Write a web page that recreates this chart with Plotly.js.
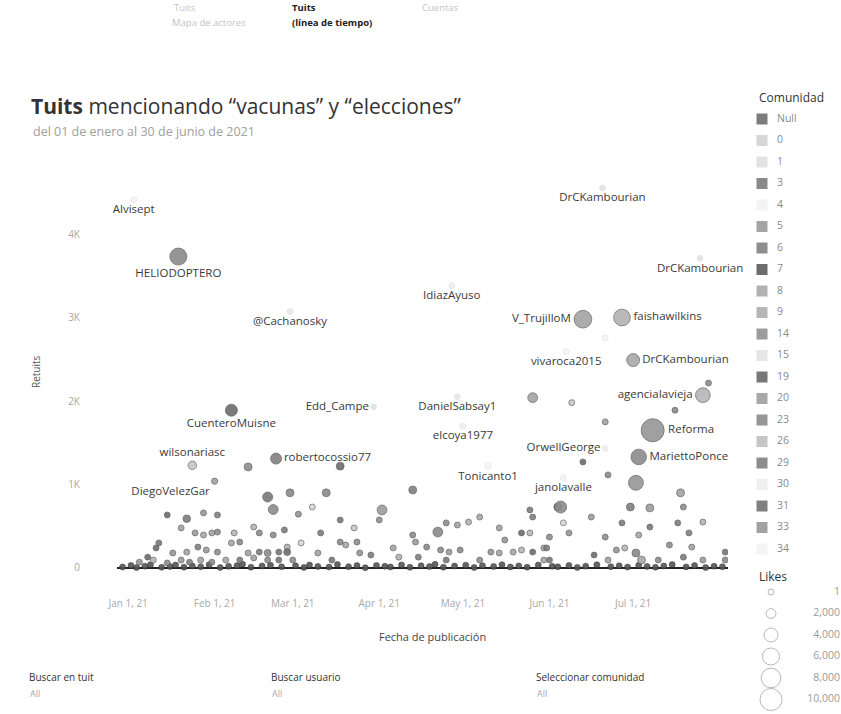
<!DOCTYPE html>
<html>
<head>
<meta charset="utf-8">
<script src="https://cdn.plot.ly/plotly-3.0.1.min.js"></script>
<style>
html,body{margin:0;padding:0;background:#fff;}
#chart{width:841px;height:714px;}
</style>
</head>
<body>
<div id="chart"></div>
<script>
// ---------- Communities (legend) ----------
const communities = ['Null','0','1','3','4','5','6','7','8','9','14','15','19','20','23','26','29','30','31','33','34'];
const communityGrays = ['#7c7c7c','#d6d6d6','#e2e2e2','#8a8a8a','#f3f3f3','#a4a4a4','#8e8e8e','#6c6c6c','#b2b2b2','#b6b6b6','#9c9c9c','#e6e6e6','#787878','#a8a8a8','#969696','#c6c6c6','#8c8c8c','#efefef','#808080','#a2a2a2','#f4f4f4'];

// ---------- Labelled tweets ----------
const userNames = ['Alvisept','HELIODOPTERO','@Cachanosky','IdiazAyuso','DrCKambourian','DrCKambourian','V_TrujilloM','faishawilkins','vivaroca2015','DrCKambourian','agenciaIavieja','Reforma','MariettoPonce','OrwellGeorge','Tonicanto1','janolavalle','DanielSabsay1','elcoya1977','Edd_Campe','CuenteroMuisne','wilsonariasc','robertocossio77','DiegoVelezGar'];
const userDates = ['2021-01-03','2021-01-19','2021-02-28','2021-04-27','2021-06-20','2021-07-25','2021-06-13','2021-06-27','2021-06-07','2021-07-01','2021-07-26','2021-07-08','2021-07-03','2021-06-21','2021-05-10','2021-06-06','2021-04-29','2021-05-01','2021-03-30','2021-02-07','2021-01-24','2021-02-23','2021-02-01'];
const userRetuits = [4410,3730,3070,3380,4550,3710,2980,3000,2590,2490,2070,1650,1330,1430,1220,1080,2050,1700,1930,1890,1230,1310,1040];
const userLikes = [300,6000,200,150,300,300,6500,5800,100,3500,4500,11000,5000,200,100,100,150,100,200,3000,1500,2500,800];
const userCommunity = ['4','3','15','30','1','1','5','8','34','20','9','23','29','30','34','4','15','30','1','7','26','31','33'];
const labelPlacement = ['bottom center','bottom center','bottom center','bottom center','bottom center','bottom center','middle left','middle right','bottom center','middle right','middle left','middle right','middle right','middle left','bottom center','bottom center','bottom center','bottom center','middle left','bottom center','top center','middle right','bottom left'];

// ---------- Other tweets ----------
const tweetDates = [
'2021-02-13','2021-02-20','2021-02-28','2021-02-22','2021-01-15','2021-01-22','2021-01-28','2021-02-02','2021-01-20','2021-01-25',
'2021-01-28','2021-01-31','2021-02-02','2021-02-08','2021-02-15','2021-02-17','2021-02-22','2021-02-26','2021-01-12','2021-01-11',
'2021-01-17','2021-01-22','2021-01-26','2021-01-29','2021-02-02','2021-02-07','2021-02-10','2021-02-13','2021-02-17','2021-02-20',
'2021-02-24','2021-02-27','2021-01-08','2021-01-05','2021-01-10','2021-01-15','2021-01-20','2021-01-23','2021-01-27','2021-01-31',
'2021-02-05','2021-02-10','2021-02-15','2021-02-20','2021-02-24','2021-03-01','2021-05-26','2021-03-18','2021-03-13','2021-03-08',
'2021-03-03','2021-04-13','2021-04-02','2021-04-01','2021-03-18','2021-03-23','2021-03-11','2021-04-25','2021-04-22','2021-05-03',
'2021-05-07','2021-04-29','2021-05-14','2021-05-22','2021-05-25','2021-05-16','2021-06-01','2021-06-04','2021-05-25','2021-05-26',
'2021-04-13','2021-04-14','2021-03-18','2021-03-20','2021-03-24','2021-03-25','2021-04-06','2021-03-04','2021-02-27','2021-03-10',
'2021-03-15','2021-03-29','2021-04-08','2021-04-15','2021-04-18','2021-04-23','2021-04-26','2021-04-30','2021-05-11','2021-05-14',
'2021-05-19','2021-05-22','2021-05-26','2021-05-30','2021-06-01','2021-04-25','2021-05-07','2021-07-16','2021-07-02','2021-06-05',
'2021-06-30','2021-07-07','2021-07-18','2021-07-19','2021-07-26','2021-07-17','2021-07-07','2021-07-03','2021-06-22','2021-06-13',
'2021-06-09','2021-06-21','2021-07-28','2021-06-08','2021-06-21','2021-06-06','2021-06-16','2021-06-27','2021-07-21','2021-07-22',
'2021-08-03','2021-07-02','2021-07-04','2021-07-14','2021-06-28','2021-06-25','2021-06-17','2021-06-22','2021-07-10','2021-07-19',
'2021-07-26','2021-05-31','2021-05-30','2021-08-03','2021-06-21'];
const tweetRetuits = [
1210,850,900,700,635,590,660,635,480,420,
395,420,430,420,490,420,395,455,300,240,
180,190,250,215,190,300,310,180,190,180,
190,250,130,70,95,60,95,70,95,70,
95,95,120,95,95,95,2040,1220,900,730,
645,935,695,575,575,480,420,540,430,550,
610,515,480,420,420,335,370,730,695,610,
395,310,310,275,310,180,240,300,190,180,
95,155,130,130,250,215,190,215,190,180,
190,215,190,240,95,95,95,1890,1020,730,
730,720,900,730,550,540,490,395,1115,1270,
1980,1750,2215,420,370,540,610,540,420,250,
190,180,95,275,240,215,155,95,95,130,
95,240,95,95,2755];
const tweetLikes = [
1300,2100,1300,2000,700,1200,500,700,200,330,
330,330,330,700,200,330,330,500,330,330,
500,500,700,330,500,330,500,700,330,1000,
700,330,180,180,180,180,180,180,180,180,
180,330,330,330,330,330,2000,1300,1300,200,
500,1300,2000,500,700,200,330,700,2000,200,
330,200,200,200,200,330,200,1300,500,330,
500,330,330,700,500,700,330,200,1000,500,
200,200,330,330,200,200,330,200,330,200,
330,200,330,330,200,200,200,700,4600,3000,
1300,1300,1300,330,700,500,330,330,330,330,
200,200,200,700,700,200,200,200,500,700,
330,1300,1300,330,330,330,200,200,330,330,
330,200,200,330,150];
const tweetCommunity = [
'6','19','3','29','7','Null','23','31','5','14',
'20','33','6','9','8','3','29','Null','19','7',
'23','5','31','14','6','20','3','33','Null','29',
'19','8','7','23','9','6','14','31','5','3',
'20','Null','33','29','19','6','5','7','3','0',
'23','31','14','6','19','26','Null','29','3','8',
'20','5','33','7','9','23','6','19','Null','31',
'3','14','29','20','6','23','5','0','7','33',
'19','Null','8','31','3','6','14','29','23','5',
'20','9','7','33','Null','19','6','3','23','29',
'31','14','5','6','8','Null','19','20','3','7',
'26','33','29','23','6','0','14','Null','31','5',
'19','3','20','6','9','23','7','33','29','Null',
'14','31','5','6','4'];

// ---------- Tweets with (almost) no retweets ----------
const baseDates = [
'2020-12-30','2021-01-02','2021-01-04','2021-01-07','2021-01-09','2021-01-13','2021-01-16','2021-01-18','2021-01-21','2021-01-24',
'2021-01-27','2021-01-30','2021-02-03','2021-02-06','2021-02-09','2021-02-11','2021-02-14','2021-02-18','2021-02-21','2021-02-25',
'2021-03-02','2021-03-05','2021-03-07','2021-03-10','2021-03-14','2021-03-17','2021-03-21','2021-03-24','2021-03-27','2021-03-31',
'2021-04-03','2021-04-05','2021-04-09','2021-04-12','2021-04-16','2021-04-19','2021-04-21','2021-04-24','2021-04-28','2021-05-02',
'2021-05-05','2021-05-08','2021-05-12','2021-05-15','2021-05-18','2021-05-21','2021-05-24','2021-05-28','2021-06-02','2021-06-04',
'2021-06-08','2021-06-11','2021-06-14','2021-06-18','2021-06-23','2021-06-26','2021-06-29','2021-07-03','2021-07-06','2021-07-09',
'2021-07-12','2021-07-15','2021-07-20','2021-07-23','2021-07-27','2021-07-30','2021-08-02'];
const baseRetuits = [
12,30,5,22,40,8,18,35,10,25,
15,38,6,20,28,45,9,24,33,14,
26,7,36,19,11,42,16,29,4,31,
21,13,37,8,27,17,44,10,23,34,
6,28,18,40,12,25,9,35,20,14,
30,7,22,39,16,26,11,33,19,8,
24,41,13,29,5,21,15];
const baseLikes = [
40,120,25,80,200,30,60,150,35,90,
50,180,20,70,110,220,30,85,140,45,
95,25,160,65,40,210,55,115,20,130,
75,45,170,30,100,60,230,35,80,150,
20,105,60,190,40,90,30,155,70,50,
125,25,80,175,55,95,40,145,65,30,
85,200,45,110,20,75,50];

// ---------- Axis ticks and size key ----------
const monthTicks = ['2021-01-01','2021-02-01','2021-03-01','2021-04-01','2021-05-01','2021-06-01','2021-07-01'];
const retuitTicks = [0,1000,2000,3000,4000];
const retuitTickText = ['0','1K','2K','3K','4K'];
const likesKeys = [1,2000,4000,6000,8000,10000];
const likesKeyText = ['1','2,000','4,000','6,000','8,000','10,000'];

// ---------- styling ----------
const FONT = 'Open Sans, Noto Sans, sans-serif';
const grayOf = {};
communities.forEach((c,i)=>{ grayOf[c] = communityGrays[i]; });
function isLight(c){ return parseInt(grayOf[c].slice(1,3),16) > 0xda; }
const SIZEREF = 2*10000/(22*22);
function markerFor(comms, likes, extra){
  return Object.assign({
    size: likes, sizemode:'area', sizeref:SIZEREF, sizemin:3,
    color: comms.map(c=>grayOf[c]),
    line:{width:0.7, color: comms.map(c=> isLight(c) ? '#e4e4e4' : '#5a5a5a')},
    opacity:0.9
  }, extra||{});
}

const traces = [];
traces.push({
  type:'scatter', mode:'markers', x: baseDates, y: baseRetuits, hoverinfo:'skip',
  marker: Object.assign(markerFor(baseDates.map(()=> 'Null'), baseLikes), {color:'#555', line:{width:0.5,color:'#222'}})
});
traces.push({
  type:'scatter', mode:'markers', x: tweetDates, y: tweetRetuits, hoverinfo:'skip',
  marker: markerFor(tweetCommunity, tweetLikes)
});
traces.push({
  type:'scatter', mode:'markers+text', x: userDates, y: userRetuits,
  text: userNames, textposition: labelPlacement, cliponaxis:false, hoverinfo:'skip',
  textfont:{family:FONT, size:11.5, color:'#3a3a3a'},
  marker: markerFor(userCommunity, userLikes)
});
// community key
traces.push({
  type:'scatter', mode:'markers', xaxis:'x2', yaxis:'y2', hoverinfo:'skip', cliponaxis:false,
  x: communities.map(()=>0), y: communities.map((c,i)=>i),
  marker:{symbol:'square', size:11, color: communityGrays, line:{width:0}}
});
traces.push({
  type:'scatter', mode:'text', xaxis:'x2', yaxis:'y2', hoverinfo:'skip', cliponaxis:false,
  x: communities.map(()=>15), y: communities.map((c,i)=>i),
  text: communities, textposition:'middle right',
  textfont:{family:FONT, size:10.5, color:'#8a8a8a'}
});
// size key
traces.push({
  type:'scatter', mode:'markers', xaxis:'x2', yaxis:'y2', hoverinfo:'skip', cliponaxis:false,
  x: likesKeys.map(()=>9), y: likesKeys.map((v,i)=>22+i),
  marker:{symbol:'circle-open', size: likesKeys, sizemode:'area', sizeref:SIZEREF, sizemin:3, color:'#9a9a9a', line:{width:1}}
});
traces.push({
  type:'scatter', mode:'text', xaxis:'x2', yaxis:'y2', hoverinfo:'skip', cliponaxis:false,
  x: likesKeys.map(()=>78), y: likesKeys.map((v,i)=>22+i),
  text: likesKeyText, textposition:'middle left',
  textfont:{family:FONT, size:10.5, color:'#9a9a9a'}
});

function px(x){ return x/841; }
function py(y){ return 1 - y/714; }
function note(text, x, y, opts){
  return Object.assign({text, x:px(x), y:py(y), xref:'paper', yref:'paper', xanchor:'left', yanchor:'middle', showarrow:false,
    font:{family:FONT, size:10, color:'#333'}}, opts||{});
}

const annotations = [
  note('Tuits', 172, 8, {font:{family:FONT,size:9.5,color:'#c4c4c4'}}),
  note('Mapa de actores', 170, 22, {font:{family:FONT,size:9.5,color:'#c4c4c4'}}),
  note('<b>Tuits</b>', 290, 8, {font:{family:FONT,size:9.5,color:'#222'}}),
  note('<b>(línea de tiempo)</b>', 290, 22, {font:{family:FONT,size:9.5,color:'#222'}}),
  note('Cuentas', 420, 8, {font:{family:FONT,size:9.5,color:'#c4c4c4'}}),
  note('del 01 de enero al 30 de junio de 2021', 31, 131, {font:{family:FONT,size:12.5,color:'#a0a0a0'}}),
  note('Retuits', 36, 372, {xanchor:'center', textangle:-90, font:{family:FONT,size:10,color:'#555'}}),
  note('Fecha de publicación', 432, 636, {xanchor:'center', font:{family:FONT,size:11,color:'#444'}}),
  note('Buscar en tuit', 27, 677, {font:{family:FONT,size:10,color:'#333'}}),
  note('All', 28, 693, {font:{family:FONT,size:9,color:'#aaa'}}),
  note('Buscar usuario', 269, 677, {font:{family:FONT,size:10,color:'#333'}}),
  note('All', 270, 693, {font:{family:FONT,size:9,color:'#aaa'}}),
  note('Seleccionar comunidad', 534, 677, {font:{family:FONT,size:10,color:'#333'}}),
  note('All', 535, 693, {font:{family:FONT,size:9,color:'#aaa'}}),
  {text:'Comunidad', x:-5, y:-1, xref:'x2', yref:'y2', xanchor:'left', yanchor:'middle', showarrow:false, font:{family:FONT,size:12,color:'#333'}},
  {text:'Likes', x:-5, y:21.3, xref:'x2', yref:'y2', xanchor:'left', yanchor:'middle', showarrow:false, font:{family:FONT,size:12,color:'#333'}}
];

const layout = {
  width:841, height:714,
  margin:{l:0, r:0, t:0, b:0},
  paper_bgcolor:'#ffffff', plot_bgcolor:'#ffffff',
  showlegend:false,
  font:{family:FONT, size:10, color:'#444'},
  title:{text:'<b>Tuits</b> mencionando “vacunas” y “elecciones”', x:px(31), xref:'container', xanchor:'left', y:py(107), yref:'container', yanchor:'middle',
    font:{family:FONT, size:21, color:'#333'}},
  xaxis:{domain:[px(117), px(728)], type:'date', range:['2020-12-28','2021-08-04'],
    tickvals: monthTicks, tickformat:'%b %-d, %y', ticks:'', ticklabelstandoff:18,
    tickfont:{family:FONT, size:10, color:'#a8a8a8'},
    showgrid:false, zeroline:false, showline:false, fixedrange:true},
  yaxis:{domain:[py(578), py(175)], range:[-120, 4707],
    tickvals: retuitTicks, ticktext: retuitTickText, ticks:'', ticklabelstandoff:36,
    tickfont:{family:FONT, size:10, color:'#a8a8a8'},
    showgrid:false, zeroline:true, zerolinecolor:'#222', zerolinewidth:2, showline:false, fixedrange:true},
  xaxis2:{domain:[px(755), 1], range:[-7, 79], visible:false, anchor:'y2', fixedrange:true},
  yaxis2:{domain:[0, py(90)], range:[27.674, -1.349], visible:false, anchor:'x2', fixedrange:true},
  annotations: annotations
};

Plotly.newPlot('chart', traces, layout, {staticPlot:true, displayModeBar:false});
</script>
</body>
</html>
